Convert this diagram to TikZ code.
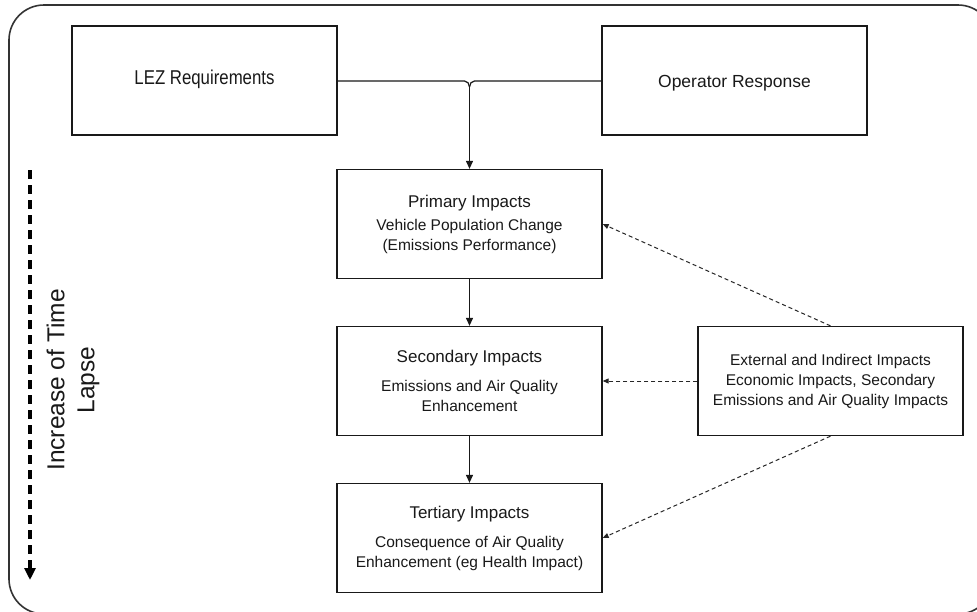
\documentclass[tikz,border=0pt]{standalone}
\usepackage{fontspec}
\setmainfont{Liberation Sans}
\newfontfamily\narrowfont[FakeStretch=0.84]{Liberation Sans}
\usetikzlibrary{arrows.meta}
\newcommand{\hdfont}{\fontsize{17}{20}\selectfont}
\newcommand{\bdfont}{\fontsize{15.5}{20}\selectfont}
\begin{document}
\begin{tikzpicture}[x=1pt,y=-1pt,
  boxstyle/.style={draw=black!90,line width=1.3pt,minimum width=265pt,minimum height=109pt,
    inner sep=0pt,align=center,font=\bdfont,text=black!90},
  flow/.style={draw=black!90,line width=1.2pt,-{Triangle[length=8pt,width=7pt]}},
  influence/.style={draw=black!85,line width=1pt,dash pattern=on 4pt off 3pt,
    -{Triangle[length=6pt,width=5pt]}},
  timeaxis/.style={draw=black,line width=3.2pt,dash pattern=on 9pt off 6pt,
    -{Triangle[length=12pt,width=11pt]}}]
\useasboundingbox (0,0) rectangle (977,611);
\fill[white] (0,0) rectangle (977,611);

% enclosing frame (runs past the right and bottom edges)
\begin{scope}
\clip (0,0) rectangle (977,611);
\draw[black!80,line width=1.6pt,rounded corners=35pt] (9,5) rectangle (993,614);
\end{scope}

% boxes
\node[boxstyle] (lez) at (204.5,80.5)
  {\raisebox{-4pt}[0pt][0pt]{\narrowfont\fontsize{20}{24}\selectfont LEZ Requirements}};
\node[boxstyle] (oper) at (734.5,80.5)
  {\raisebox{-7pt}[0pt][0pt]{\fontsize{17.5}{20}\selectfont Operator Response}};
\node[boxstyle] (prim) at (469.5,224) {{\hdfont Primary Impacts}\\[3pt]
  Vehicle Population Change\\(Emissions Performance)};
\node[boxstyle] (sec) at (469.5,381) {{\hdfont Secondary Impacts}\\[9pt]
  Emissions and Air Quality\\Enhancement};
\node[boxstyle] (ter) at (469.5,538) {{\hdfont Tertiary Impacts}\\[9pt]
  Consequence of Air Quality\\Enhancement (eg Health Impact)};
\node[boxstyle] (ext) at (830.5,381) {External and Indirect Impacts\\
  Economic Impacts, Secondary\\Emissions and Air Quality Impacts};

% joining line from the two top boxes, with the drop into the primary box
\coordinate (join) at (469.5,87);
\draw[black!90,line width=1.2pt] (lez.east |- 0,81) -- (464.5,81) to[out=0,in=90] (join);
\draw[black!90,line width=1.2pt] (oper.west |- 0,81) -- (474.5,81) to[out=180,in=90] (join);
\draw[flow] (join) -- (prim.north);
\draw[flow] (prim.south) -- (sec.north);
\draw[flow] (sec.south) -- (ter.north);

% external influences
\draw[influence] (ext.north) -- (prim.east);
\draw[influence] (ext.west) -- (sec.east);
\draw[influence] (ext.south) -- (ter.east);

% time axis
\coordinate (tstart) at (30,170);
\coordinate (tend) at (30,580);
\draw[timeaxis] (tstart) -- (tend);
\node[rotate=90,align=center,font=\fontsize{24.5}{30}\selectfont,text=black!90] (tlabel) at (73,380)
  {Increase of Time\\Lapse};
\end{tikzpicture}
\end{document}
